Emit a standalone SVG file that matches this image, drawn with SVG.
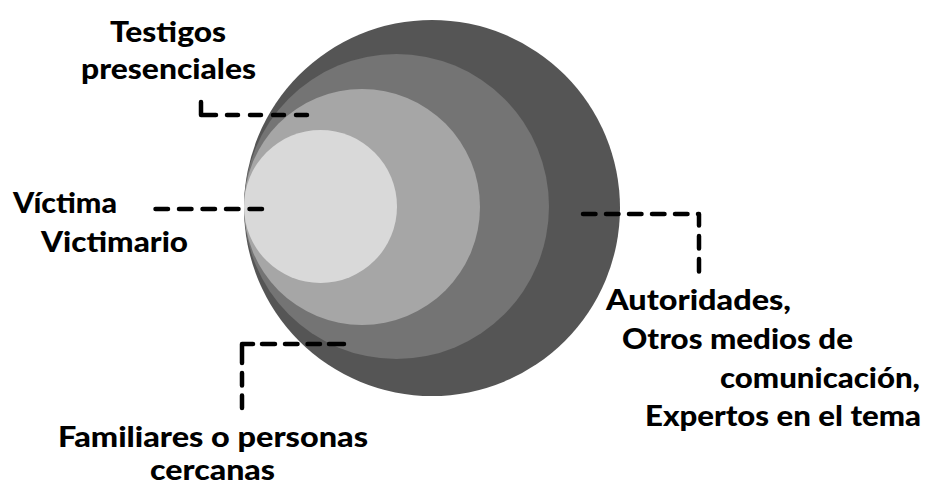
<svg xmlns="http://www.w3.org/2000/svg" width="926" height="487" viewBox="0 0 926 487">
<style>
.lbl{font-family:"Lato","Liberation Sans",sans-serif;font-weight:900;font-size:29px;fill:#000}
.dash{fill:none;stroke:#000;stroke-width:4.5;stroke-linecap:round;stroke-linejoin:round}
</style>
<rect width="926" height="487" fill="#fff"/>
<g id="rings">
<circle id="ring-outer" cx="432" cy="208" r="188" fill="#555555"/>
<circle id="ring-2" cx="396.5" cy="206.5" r="152.5" fill="#747474"/>
<circle id="ring-3" cx="362" cy="207" r="118" fill="#a6a6a6"/>
<circle id="ring-inner" cx="320.5" cy="206.5" r="76.5" fill="#d9d9d9"/>
</g>
<g id="connectors">
<path d="M201,102 V115 H311" class="dash" stroke-dasharray="28 11 11 12 11 12 11 12 11"/>
<path d="M155.5,209 H263" class="dash" stroke-dasharray="12.5 11"/>
<path d="M242,408 V344 H349" class="dash" stroke-dasharray="12.5 10 12.5 10 30 9 13 10 12.5 10 12.5 9 15"/>
<path d="M583,214 H699 V273" class="dash" stroke-dasharray="12.5 10.5"/>
</g>
<g id="label-testigos">
<text class="lbl" x="110" y="42" textLength="116" lengthAdjust="spacingAndGlyphs">Testigos</text>
<text class="lbl" x="81" y="79" textLength="175" lengthAdjust="spacingAndGlyphs">presenciales</text>
</g>
<g id="label-victima">
<text class="lbl" x="13" y="213" textLength="104" lengthAdjust="spacingAndGlyphs">Víctima</text>
<text class="lbl" x="41" y="252" textLength="147" lengthAdjust="spacingAndGlyphs">Victimario</text>
</g>
<g id="label-familiares">
<text class="lbl" x="58" y="447" textLength="310" lengthAdjust="spacingAndGlyphs">Familiares o personas</text>
<text class="lbl" x="150" y="480" textLength="125" lengthAdjust="spacingAndGlyphs">cercanas</text>
</g>
<g id="label-autoridades">
<text class="lbl" x="606" y="310" textLength="185" lengthAdjust="spacingAndGlyphs">Autoridades,</text>
<text class="lbl" x="622" y="349" textLength="231" lengthAdjust="spacingAndGlyphs">Otros medios de</text>
<text class="lbl" x="720" y="388" textLength="200" lengthAdjust="spacingAndGlyphs">comunicación,</text>
<text class="lbl" x="645" y="426" textLength="276" lengthAdjust="spacingAndGlyphs">Expertos en el tema</text>
</g>
</svg>
